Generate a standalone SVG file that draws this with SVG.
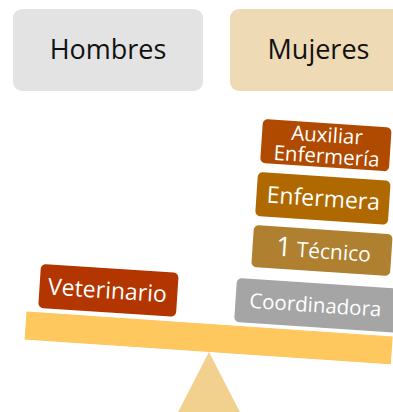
<svg xmlns="http://www.w3.org/2000/svg" width="393" height="412" viewBox="0 0 393 412">
<style>
.hdr{font-family:"Open Sans","Noto Sans",sans-serif;font-size:27px;fill:#111;text-anchor:middle}
.lbl{font-family:"Open Sans","Noto Sans",sans-serif;font-size:23px;fill:#fff;text-anchor:middle}
.lbl2{font-family:"Open Sans","Noto Sans",sans-serif;font-size:20.5px;fill:#fff;text-anchor:middle}
</style>
<rect width="393" height="412" fill="#fff"/>
<g id="hombres"><rect x="13" y="9" width="190" height="82" rx="9" fill="#E3E3E3"/><text class="hdr" x="108" y="59">Hombres</text></g>
<g id="mujeres"><rect x="230" y="9" width="190" height="82" rx="9" fill="#EEDAB4"/><text class="hdr" x="318.5" y="59">Mujeres</text></g>
<g id="fulcrum"><polygon points="209,352 246,424 172,424" fill="#F2D08E"/></g>
<g id="beam"><rect transform="translate(27,312) rotate(3.9)" width="366" height="27" fill="#FFC85F" stroke="#FDC55A" stroke-width="1"/></g>
<g id="veterinario" transform="translate(41,264) rotate(3.7)"><rect width="138" height="44" rx="5" fill="#B33500"/><text class="lbl" x="68" y="30">Veterinario</text></g>
<g id="auxiliar" transform="translate(263,119) rotate(3.8)"><rect width="129" height="44" rx="5" fill="#B04A00"/><text class="lbl2" x="65" y="19">Auxiliar</text><text class="lbl2" x="66" y="40">Enfermería</text></g>
<g id="enfermera" transform="translate(258,172) rotate(3.8)"><rect width="133" height="44" rx="5" fill="#B06800"/><text class="lbl" x="67" y="30">Enfermera</text></g>
<g id="tecnico" transform="translate(254,225) rotate(3.8)"><rect width="139" height="42" rx="5" fill="#AE8030"/><text class="lbl" x="71" y="29" style="font-size:21px"><tspan style="font-size:27px">1</tspan> Técnico</text></g>
<g id="coordinadora" transform="translate(237,278) rotate(3.8)"><rect width="170" height="44" rx="5" fill="#A5A5A5"/><text class="lbl" x="80" y="29" style="font-size:20.5px">Coordinadora</text></g>
</svg>
